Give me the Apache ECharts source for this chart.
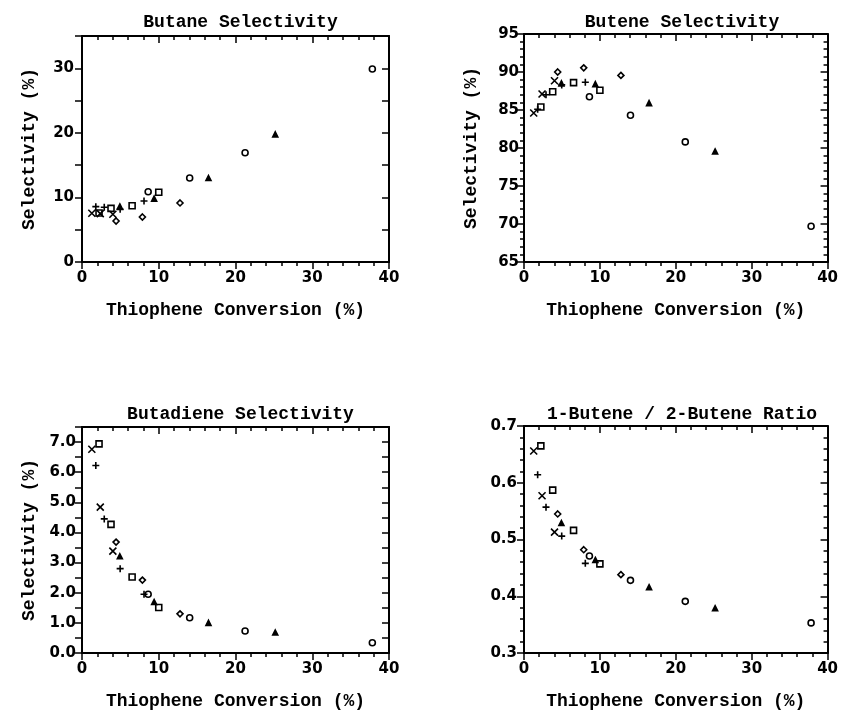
<!DOCTYPE html>
<html>
<head>
<meta charset="utf-8">
<script src="https://cdn.jsdelivr.net/npm/echarts@6/dist/echarts.min.js"></script>
<style>
  html, body { margin: 0; padding: 0; background: #fff; }
  #chart { width: 841px; height: 711px; }
</style>
</head>
<body>
<div id="chart"></div>
<script>
// Thiophene conversion (%) for each run set, one array per marker type
const xCross    = [1.28, 2.38, 4.02];
const xPlus     = [1.80, 2.90, 4.97, 8.08];
const xSquare   = [2.22, 3.78, 6.53, 10.00];
const xDiamond  = [4.44, 7.87, 12.77];
const xCircle   = [8.62, 14.03, 21.25, 37.83];
const xTriangle = [4.93, 9.40, 16.48, 25.18];

// Butane selectivity (%)
const butaneCross    = [7.55, 7.5, 7.4];
const butanePlus     = [8.57, 8.47, 8.15, 9.45];
const butaneSquare   = [7.6, 8.3, 8.72, 10.8];
const butaneDiamond  = [6.35, 6.97, 9.14];
const butaneCircle   = [10.89, 13.0, 16.93, 29.89];
const butaneTriangle = [8.6, 9.81, 13.0, 19.77];

// Butene selectivity (%)
const buteneCross    = [84.6, 87.1, 88.85];
const butenePlus     = [85.1, 87.0, 88.3, 88.65];
const buteneSquare   = [85.4, 87.4, 88.6, 87.6];
const buteneDiamond  = [90.0, 90.55, 89.55];
const buteneCircle   = [86.75, 84.3, 80.8, 69.7];
const buteneTriangle = [88.5, 88.4, 85.9, 79.55];

// Butadiene selectivity (%)
const butadieneCross    = [6.76, 4.84, 3.38];
const butadienePlus     = [6.22, 4.45, 2.80, 1.95];
const butadieneSquare   = [6.94, 4.27, 2.52, 1.51];
const butadieneDiamond  = [3.68, 2.42, 1.30];
const butadieneCircle   = [1.95, 1.17, 0.73, 0.34];
const butadieneTriangle = [3.21, 1.69, 1.00, 0.68];

// 1-butene / 2-butene ratio
const ratioCross    = [0.656, 0.577, 0.513];
const ratioPlus     = [0.614, 0.557, 0.506, 0.458];
const ratioSquare   = [0.665, 0.587, 0.516, 0.457];
const ratioDiamond  = [0.545, 0.482, 0.438];
const ratioCircle   = [0.471, 0.428, 0.391, 0.353];
const ratioTriangle = [0.529, 0.464, 0.416, 0.379];

const panelTitles = ['Butane Selectivity', 'Butene Selectivity', 'Butadiene Selectivity', '1-Butene / 2-Butene Ratio'];
const xTitle = 'Thiophene Conversion (%)';
const yTitle = 'Selectivity (%)';
const xTicks = { min: 0, max: 40, interval: 10 };

const TEXT_FONT = 'Liberation Mono';
const TICK_FONT = 'DejaVu Sans';

// marker styles
const markers = {
  cross:    { symbol: 'path://M0,0L10,10M10,0L0,10', size: 7, fill: 'none' },
  plus:     { symbol: 'path://M5,0L5,10M0,5L10,5', size: 7, fill: 'none' },
  square:   { symbol: 'rect', size: 6, fill: 'none' },
  diamond:  { symbol: 'diamond', size: 6, fill: 'none' },
  circle:   { symbol: 'circle', size: 6, fill: 'none' },
  triangle: { symbol: 'triangle', size: 5, fill: '#000' }
};
const xByMarker = { cross: xCross, plus: xPlus, square: xSquare, diamond: xDiamond, circle: xCircle, triangle: xTriangle };

const panels = [
  { grid: { left: 82, top: 36, width: 307, height: 226 },
    y: { min: 0, max: 35, interval: 5, minorSplit: 0, label: v => (v % 10 === 0 ? String(v) : ''), margin: 8 },
    yName: yTitle,
    values: { cross: butaneCross, plus: butanePlus, square: butaneSquare, diamond: butaneDiamond, circle: butaneCircle, triangle: butaneTriangle } },
  { grid: { left: 524, top: 34, width: 306, height: 228 },
    y: { min: 65, max: 95, interval: 5, minorSplit: 5, label: v => String(v), margin: 5 },
    yName: yTitle,
    values: { cross: buteneCross, plus: butenePlus, square: buteneSquare, diamond: buteneDiamond, circle: buteneCircle, triangle: buteneTriangle } },
  { grid: { left: 82, top: 427, width: 307, height: 227 },
    y: { min: 0, max: 7.5, interval: 0.5, minorSplit: 0, label: v => (Math.abs(v - Math.round(v)) < 1e-6 ? v.toFixed(1) : ''), margin: 6 },
    yName: yTitle,
    values: { cross: butadieneCross, plus: butadienePlus, square: butadieneSquare, diamond: butadieneDiamond, circle: butadieneCircle, triangle: butadieneTriangle } },
  { grid: { left: 524, top: 426, width: 306, height: 227 },
    y: { min: 0.3, max: 0.7, interval: 0.1, minorSplit: 5, label: v => v.toFixed(1), margin: 7 },
    yName: '',
    values: { cross: ratioCross, plus: ratioPlus, square: ratioSquare, diamond: ratioDiamond, circle: ratioCircle, triangle: ratioTriangle } }
];

const axisLine = { show: true, onZero: false, lineStyle: { color: '#000', width: 2 } };
const tickStyle = { color: '#000', width: 1.5 };

const grids = [], xAxes = [], yAxes = [], series = [], titles = [];

panels.forEach((p, i) => {
  grids.push(Object.assign({ containLabel: false }, p.grid));
  titles.push({
    text: panelTitles[i],
    left: p.grid.left + p.grid.width / 2,
    top: i < 2 ? 8 : 400,
    textAlign: 'center',
    textStyle: { fontFamily: TEXT_FONT, fontSize: 18, fontWeight: 'bold', color: '#000' }
  });

  // bottom x axis: labels, ticks pointing down
  xAxes.push({
    type: 'value', gridIndex: i, position: 'bottom',
    min: xTicks.min, max: xTicks.max, interval: xTicks.interval,
    name: xTitle, nameLocation: 'middle', nameGap: 39,
    nameTextStyle: { fontFamily: TEXT_FONT, fontSize: 18, fontWeight: 'bold', color: '#000' },
    axisLine, splitLine: { show: false },
    axisTick: { show: true, inside: false, length: 7, lineStyle: tickStyle },
    minorTick: { show: true, splitNumber: 5, length: 4, lineStyle: tickStyle },
    axisLabel: { margin: 9, fontFamily: TICK_FONT, fontSize: 15, fontWeight: 'bold', color: '#000' }
  });
  // top x axis: frame with ticks pointing down into the plot
  xAxes.push({
    type: 'value', gridIndex: i, position: 'top',
    min: xTicks.min, max: xTicks.max, interval: xTicks.interval,
    axisLine, splitLine: { show: false },
    axisTick: { show: true, inside: true, length: 7, lineStyle: tickStyle },
    minorTick: { show: true, splitNumber: 5, length: 4, lineStyle: tickStyle },
    axisLabel: { show: false }
  });

  const yMinor = p.y.minorSplit
    ? { show: true, splitNumber: p.y.minorSplit, length: 4, lineStyle: tickStyle }
    : { show: false };
  // left y axis: labels, ticks pointing left
  yAxes.push({
    type: 'value', gridIndex: i, position: 'left',
    min: p.y.min, max: p.y.max, interval: p.y.interval,
    name: p.yName, nameLocation: 'middle', nameGap: 44,
    nameTextStyle: { fontFamily: TEXT_FONT, fontSize: 18, fontWeight: 'bold', color: '#000' },
    axisLine, splitLine: { show: false },
    axisTick: { show: true, inside: false, length: 7, lineStyle: tickStyle },
    minorTick: yMinor,
    axisLabel: { margin: p.y.margin, formatter: p.y.label, fontFamily: TICK_FONT, fontSize: 15, fontWeight: 'bold', color: '#000', showMaxLabel: true }
  });
  // right y axis: frame with ticks pointing left into the plot
  yAxes.push({
    type: 'value', gridIndex: i, position: 'right',
    min: p.y.min, max: p.y.max, interval: p.y.interval,
    axisLine, splitLine: { show: false },
    axisTick: { show: true, inside: true, length: 7, lineStyle: tickStyle },
    minorTick: yMinor,
    axisLabel: { show: false }
  });

  Object.keys(markers).forEach(key => {
    const m = markers[key];
    const xs = xByMarker[key];
    const ys = p.values[key];
    series.push({
      type: 'scatter',
      xAxisIndex: i * 2,
      yAxisIndex: i * 2,
      symbol: m.symbol,
      symbolSize: m.size,
      silent: true,
      data: xs.map((x, k) => [x, ys[k]]),
      itemStyle: { color: m.fill, borderColor: '#000', borderWidth: 1.6, opacity: 1 }
    });
  });
});

const chart = echarts.init(document.getElementById('chart'), null, { renderer: 'canvas' });
chart.setOption({
  backgroundColor: '#fff',
  animation: false,
  title: titles,
  grid: grids,
  xAxis: xAxes,
  yAxis: yAxes,
  series
});
</script>
</body>
</html>
